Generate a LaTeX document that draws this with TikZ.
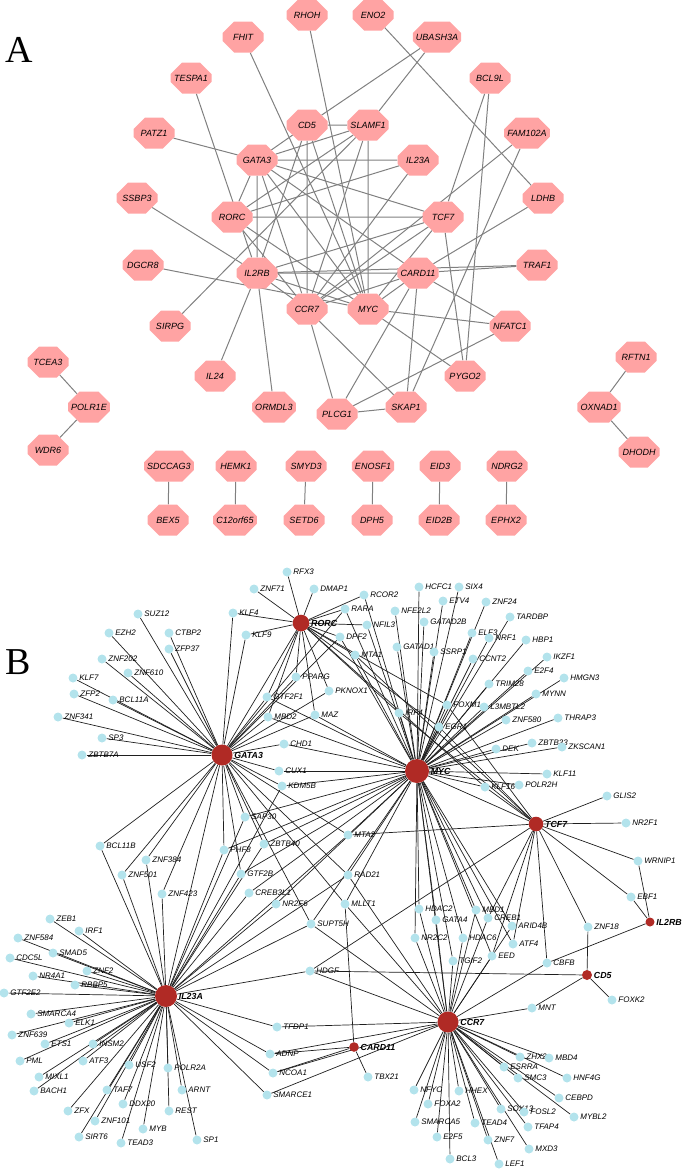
\documentclass[tikz,border=0pt]{standalone}
\usepackage{fontspec}
\setmainfont{Liberation Sans}
\newfontfamily\serifA{Liberation Serif}
\usetikzlibrary{shapes.misc,backgrounds}
\definecolor{octpink}{HTML}{FFA3A3}
\definecolor{edgeA}{HTML}{808080}
\definecolor{tfblue}{HTML}{B3E3EC}
\definecolor{hubred}{HTML}{B02A25}
\tikzset{
 oct/.style={chamfered rectangle, chamfered rectangle xsep=10pt, chamfered rectangle ysep=8.5pt,
   minimum width=41pt, minimum height=31pt, inner sep=0pt, fill=octpink,
   font=\fontsize{9}{9}\selectfont\itshape},
 eA/.style={draw=edgeA, line width=1pt},
 tfl/.style={font=\fontsize{8}{8}\selectfont\itshape, inner sep=1.5pt},
 tf/.style={circle, fill=tfblue, minimum size=9pt, inner sep=0pt, label={[tfl]right:#1}},
 hubl/.style={font=\fontsize{8.8}{9}\selectfont\bfseries\itshape, inner sep=1.5pt},
 hub/.style 2 args={circle, fill=hubred, minimum size=#1, inner sep=0pt, label={[hubl]right:#2}},
 eB/.style={draw=black!88, line width=0.7pt},
 panel/.style={font=\serifA\fontsize{38}{38}\selectfont, inner sep=0pt},
}
\begin{document}
\begin{tikzpicture}[x=1pt,y=-1pt]
\useasboundingbox (0,0) rectangle (685,1170);
\node[panel] (labA) at (19,50) {A};
\node[panel] (labB) at (18,662) {B};
% ---------------- Panel A ----------------
\foreach \n/\x/\y in {RHOH/307/15, ENO2/373/15, FHIT/243/37, UBASH3A/437/37, TESPA1/191/78,
  BCL9L/490/78, PATZ1/154/133, CD5/307/125, SLAMF1/368/125, FAM102A/527/133, GATA3/257/160,
  IL23A/418/160, SSBP3/137/198, RORC/232/217, TCF7/443/217, LDHB/543/198, DGCR8/143/265,
  IL2RB/257/273, CARD11/418/273, TRAF1/537/265, CCR7/307/309, MYC/368/309, NFATC1/510/326,
  SIRPG/170/326, IL24/215/376, PYGO2/465/376, ORMDL3/274/407, PLCG1/337/414, SKAP1/406/407,
  TCEA3/48/362, POLR1E/89/407, WDR6/48/450, RFTN1/636/357, OXNAD1/599/407, DHODH/639/452,
  SDCCAG3/169/466, BEX5/168/520, HEMK1/236/466, C12orf65/235/520, SMYD3/306/466, SETD6/304/520,
  ENOSF1/373/466, DPH5/372/520, EID3/440/466, EID2B/439/520, NDRG2/507/466, EPHX2/506/520}
  \node[oct] (a\n) at (\x,\y) {\n};
\begin{scope}[on background layer]
\foreach \s/\t in {RHOH/MYC, ENO2/LDHB, FHIT/MYC, UBASH3A/CD5, UBASH3A/SLAMF1, TESPA1/IL2RB,
  BCL9L/TCF7, BCL9L/PYGO2, PATZ1/GATA3, FAM102A/CCR7, FAM102A/SKAP1, LDHB/CARD11, SSBP3/IL2RB,
  DGCR8/MYC, SIRPG/SLAMF1, TRAF1/CARD11, TRAF1/IL2RB, IL24/IL2RB, ORMDL3/IL2RB,
  CD5/SLAMF1, CD5/GATA3, CD5/CCR7, CD5/MYC, CD5/IL2RB,
  SLAMF1/GATA3, SLAMF1/RORC, SLAMF1/CCR7, SLAMF1/MYC,
  GATA3/IL23A, GATA3/TCF7, GATA3/RORC, GATA3/IL2RB, GATA3/CCR7, GATA3/MYC, GATA3/CARD11,
  IL23A/RORC, IL23A/CCR7, RORC/TCF7, RORC/CCR7, RORC/MYC,
  TCF7/IL2RB, TCF7/CCR7, TCF7/MYC, TCF7/PYGO2,
  IL2RB/CARD11, IL2RB/CCR7, IL2RB/MYC,
  CARD11/MYC, CARD11/SKAP1, CARD11/PLCG1, CARD11/NFATC1, CARD11/CCR7,
  MYC/NFATC1, MYC/PYGO2, CCR7/PLCG1, CCR7/SKAP1, PLCG1/SKAP1, PLCG1/NFATC1,
  TCEA3/POLR1E, POLR1E/WDR6, RFTN1/OXNAD1, OXNAD1/DHODH, SDCCAG3/BEX5, HEMK1/C12orf65,
  SMYD3/SETD6, ENOSF1/DPH5, EID3/EID2B, NDRG2/EPHX2}
  \draw[eA] (a\s) -- (a\t);
\end{scope}
% ---------------- Panel B ----------------
\node[hub={16.6pt}{RORC}] (bRORC) at (301,623) {};
\node[hub={21pt}{GATA3}] (bGATA3) at (222,755) {};
\node[hub={24pt}{MYC}] (bMYC) at (417,771) {};
\node[hub={14.6pt}{TCF7}] (bTCF7) at (536,824) {};
\node[hub={9pt}{IL2RB}] (bIL2RB) at (650,922) {};
\node[hub={10pt}{CD5}] (bCD5) at (587,975) {};
\node[hub={22pt}{IL23A}] (bIL23A) at (166,996) {};
\node[hub={21pt}{CCR7}] (bCCR7) at (448,1022) {};
\node[hub={9.6pt}{CARD11}] (bCARD11) at (354,1047) {};
\foreach \n/\x/\y in {RFX3/287/572, ZNF71/254/589, DMAP1/314/589, SUZ12/138/614, KLF4/233/613,
  EZH2/109/633, CTBP2/169/633, KLF9/246/635, ZFP37/169/649, ZNF202/102/659, ZNF610/128/673,
  KLF7/73/678, PPARG/296/677, ZFP2/74/694, BCL11A/113/700, GTF2F1/267/697, PKNOX1/329/691,
  ZNF341/58/717, MBD2/268/717, MAZ/315/715, SP3/102/738, CHD1/284/744, ZBTB7A/82/755,
  CUX1/279/771, KDM5B/282/786, RCOR2/364/595, HCFC1/419/587, SIX4/459/587, RARA/345/609,
  ETV4/443/601, ZNF24/486/602, NFE2L2/395/611, TARDBP/510/617, NFIL3/367/625, GATAD2B/424/622,
  DPF2/340/637, ELF3/472/633, NRF1/489/638, HBP1/526/640, GATAD1/397/647, SSRP1/434/652,
  MTA1/355/655, CCNT2/473/659, IKZF1/547/657, E2F4/528/671, HMGN3/564/678, TRIM28/489/684,
  MYNN/536/694, FOXM1/447/705, L3MBTL2/484/707, IRF4/399/713, ZNF580/506/720, THRAP3/558/718,
  EGR1/439/727, ZBTB33/532/743, ZKSCAN1/562/747, DEK/496/749, KLF11/547/774, KLF16/485/787,
  POLR2H/519/785, GLIS2/607/796, NR2F1/626/823, WRNIP1/638/861, EBF1/631/897, ZNF18/588/927,
  CBFB/547/963, TGIF2/453/961, SAP30/245/817, MTA2/348/835, PHF8/224/850, ZBTB40/264/844,
  GTF2B/241/874, RAD21/348/875, CREB3L1/249/893, NR2F6/276/904, MLLT1/345/904, SUPT5H/311/924,
  HDAC2/419/909, GATA4/436/920, MBD1/476/910, CREB1/488/918, ARID4B/512/926, NR2C2/415/938,
  HDAC6/463/938, ATF4/513/944, EED/492/956, BCL11B/100/846, ZNF384/146/860, ZNF501/122/875,
  ZNF423/162/894, ZEB1/50/919, IRF1/79/931, ZNF584/18/938, SMAD5/53/953, CDC5L/10/958,
  ZNF2/87/971, NR4A1/33/976, RBBP5/75/985, HDGF/310/971, GTF2E2/4/993, SMARCA4/31/1014,
  ELK1/69/1023, ZNF639/12/1035, ETS1/45/1044, INSM2/93/1044, PML/20/1061, ATF3/83/1061,
  USF2/129/1065, POLR2A/168/1068, MIXL1/39/1077, BACH1/34/1091, TAF7/107/1090, ARNT/182/1090,
  DDX20/123/1104, ZFX/68/1111, REST/169/1111, ZNF101/95/1121, MYB/143/1129, SIRT6/79/1137,
  SP1/197/1140, TEAD3/121/1143, TFDP1/277/1027, ADNP/270/1054, NCOA1/273/1073, SMARCE1/267/1095,
  FOXK2/612/1000, MNT/532/1008, ZHX2/520/1057, MBD4/549/1058, ESRRA/504/1067, TBX21/368/1077,
  SMC3/518/1078, HNF4G/567/1078, NFYC/414/1090, HHEX/459/1091, CEBPD/559/1098, FOXA2/428/1104,
  SOX13/501/1109, FOSL2/524/1112, MYBL2/574/1117, SMARCA5/415/1122, TEAD4/475/1123,
  TFAP4/528/1127, E2F5/437/1137, ZNF7/488/1140, MXD3/529/1149, BCL3/450/1159, LEF1/499/1164}
  \node[tf=\n] (b\n) at (\x,\y) {};
\begin{scope}[on background layer]
\foreach \t in {RFX3, ZNF71, DMAP1, KLF4, KLF9, RCOR2, RARA, NFIL3, DPF2, MTA1, PPARG, GTF2F1,
  MBD2, MAZ, PKNOX1, FOXM1, IRF4, EGR1, KLF16}
  \draw[eB] (bRORC) -- (b\t);
\foreach \t in {SUZ12, EZH2, CTBP2, ZFP37, ZNF202, ZNF610, KLF7, ZFP2, BCL11A, ZNF341, SP3, ZBTB7A,
  KLF4, KLF9, PPARG, GTF2F1, MBD2, PKNOX1, CHD1, CUX1, KDM5B, SAP30, PHF8, ZBTB40, GTF2B, BCL11B,
  ZNF384, ZNF501, ZNF423, MTA2, RAD21, MLLT1, SUPT5H, RORC, RARA, DPF2, IL23A, MAZ}
  \draw[eB] (bGATA3) -- (b\t);
\foreach \t in {RCOR2, RARA, NFIL3, DPF2, MTA1, NFE2L2, HCFC1, SIX4, ETV4, ZNF24, GATAD2B, TARDBP,
  ELF3, NRF1, HBP1, GATAD1, SSRP1, CCNT2, IKZF1, E2F4, HMGN3, TRIM28, MYNN, FOXM1, L3MBTL2, IRF4,
  ZNF580, THRAP3, EGR1, ZBTB33, ZKSCAN1, DEK, KLF11, KLF16, POLR2H, CHD1, CUX1, KDM5B, MBD2,
  GTF2F1, MAZ, SAP30, PHF8, ZBTB40, GTF2B, CREB3L1, NR2F6, MTA2, RAD21, MLLT1, SUPT5H, HDAC2,
  GATA4, MBD1, CREB1, ARID4B, NR2C2, HDAC6, ATF4, EED, TGIF2, TCF7, CCR7}
  \draw[eB] (bMYC) -- (b\t);
\foreach \t in {FOXM1, IRF4, EGR1, KLF16, MTA1, MTA2, HDGF, GLIS2, NR2F1, WRNIP1, EBF1, ZNF18,
  CBFB, ATF4, EED, CREB1}
  \draw[eB] (bTCF7) -- (b\t);
\foreach \t in {WRNIP1, EBF1, CBFB}
  \draw[eB] (bIL2RB) -- (b\t);
\foreach \t in {HDGF, ZNF18, FOXK2, MNT}
  \draw[eB] (bCD5) -- (b\t);
\foreach \t in {ZEB1, IRF1, ZNF584, SMAD5, CDC5L, ZNF2, NR4A1, RBBP5, GTF2E2, SMARCA4, ELK1,
  ZNF639, ETS1, INSM2, PML, ATF3, USF2, POLR2A, MIXL1, BACH1, TAF7, ARNT, DDX20, ZFX, REST,
  ZNF101, MYB, SIRT6, SP1, TEAD3, TFDP1, ADNP, NCOA1, SMARCE1, HDGF, SUPT5H, NR2F6, CREB3L1,
  GTF2B, PHF8, ZBTB40, SAP30, BCL11B, ZNF384, ZNF501, ZNF423, KDM5B, MTA2, RAD21}
  \draw[eB] (bIL23A) -- (b\t);
\foreach \t in {TFDP1, ADNP, NCOA1, SMARCE1, SUPT5H, HDGF, RAD21, MLLT1, HDAC2, GATA4, NR2C2,
  TGIF2, HDAC6, MBD1, CREB1, EED, ARID4B, CBFB, MNT, ZHX2, MBD4, ESRRA, SMC3, HNF4G, NFYC, HHEX,
  CEBPD, FOXA2, SOX13, FOSL2, MYBL2, SMARCA5, TEAD4, TFAP4, E2F5, ZNF7, MXD3, BCL3, LEF1}
  \draw[eB] (bCCR7) -- (b\t);
\foreach \t in {MLLT1, ADNP, NCOA1, TBX21}
  \draw[eB] (bCARD11) -- (b\t);
\end{scope}
\end{tikzpicture}
\end{document}
